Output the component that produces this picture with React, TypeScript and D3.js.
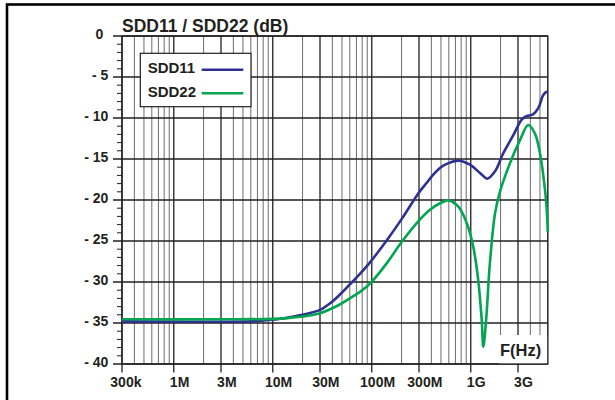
import React from "react";
import * as d3 from "d3";

const FREQ_DOMAIN = [3e5, 6e9];
const DB_DOMAIN = [-40, 0];

const xTickValues = [3e5, 1e6, 3e6, 1e7, 3e7, 1e8, 3e8, 1e9, 3e9];
const xTickLabels = ["300k", "1M", "3M", "10M", "30M", "100M", "300M", "1G", "3G"];

const yTickValues = [0, -5, -10, -15, -20, -25, -30, -35, -40];
const yTickLabels = ["0", "- 5", "- 10", "- 15", "- 20", "- 25", "- 30", "- 35", "- 40"];

const seriesNames = ["SDD11", "SDD22"];
const seriesColors = ["#2E3192", "#00A651"];

// frequencies in MHz
const sdd11Freq = [0.3, 1, 3, 6, 10, 14, 20, 30, 38, 48, 60, 76, 96, 142, 201, 295, 359, 418, 500, 572, 750, 980, 1240, 1470, 1760, 2130, 2690, 3270, 3670, 4220, 4810, 5400, 5850, 6000];
const sdd11Db = [-34.8, -34.85, -34.85, -34.8, -34.6, -34.35, -34.0, -33.4, -32.6, -31.5, -30.3, -29.0, -27.6, -24.9, -22.3, -19.2, -17.9, -16.9, -16.0, -15.6, -15.2, -15.7, -16.7, -17.4, -16.5, -14.3, -12.1, -10.2, -9.75, -9.6, -8.8, -7.2, -6.8, -6.8];

const sdd22Freq = [0.3, 3, 10, 14, 20, 30, 45, 60, 76, 96, 142, 201, 295, 387, 489, 593, 749, 910, 1060, 1190, 1290, 1340, 1430, 1560, 1760, 1970, 2490, 3140, 3810, 4450, 5000, 5400, 5800, 6000];
const sdd22Db = [-34.55, -34.55, -34.5, -34.4, -34.2, -33.8, -32.9, -32.0, -31.2, -30.2, -27.7, -25.1, -22.6, -21.2, -20.4, -20.05, -20.8, -22.8, -25.7, -29.8, -34.6, -37.9, -34.6, -27.7, -21.6, -19.0, -15.5, -12.7, -10.85, -11.9, -14.3, -17.0, -20.5, -23.9];

const INK = "#231f20";
const FONT = "'Liberation Sans', Arial, Helvetica, sans-serif";

export default function App() {
  const W = 615;
  const H = 400;
  const left = 122, right = 547.8, top = 36, bottom = 364;

  const x = d3.scaleLog().domain(FREQ_DOMAIN).range([left, right]);
  const y = d3.scaleLinear().domain(DB_DOMAIN).range([bottom, top]);

  const gridFreqs: number[] = [];
  for (let dec = 1e5; dec <= 1e10; dec *= 10) {
    for (let m = 1; m <= 9; m++) {
      const f = dec * m;
      if (f >= FREQ_DOMAIN[0] * 0.999 && f <= FREQ_DOMAIN[1] * 1.001) gridFreqs.push(f);
    }
  }
  const isMajor = (f: number) => xTickValues.some((t) => Math.abs(t - f) / t < 1e-6);

  const minorDb = d3.range(-40, 1, 1).filter((v) => v % 5 !== 0);

  const line = d3
    .line<[number, number]>()
    .x((d) => x(d[0] * 1e6))
    .y((d) => y(d[1]))
    .curve(d3.curveCatmullRom.alpha(0.5));

  const s11: [number, number][] = sdd11Freq.map((f, i) => [f, sdd11Db[i]]);
  const s22: [number, number][] = sdd22Freq.map((f, i) => [f, sdd22Db[i]]);

  const fs = 14;
  const digitW = 0.556 * fs;

  return (
    <svg
      width={W}
      height={H}
      style={{ position: "absolute", left: 0, top: 0, background: "#fff" }}
      fontFamily={FONT}
    >
      <rect x={0} y={0} width={W} height={H} fill="#fff" />
      <rect x={7} y={4.5} width={800} height={600} fill="none" stroke="#000" strokeWidth={2.6} />

      {gridFreqs.map((f, i) => (
        <line
          key={"vg" + i}
          x1={x(f)}
          x2={x(f)}
          y1={top}
          y2={isMajor(f) ? bottom + 8.5 : bottom}
          stroke={isMajor(f) ? INK : "#6d6d6d"}
          strokeWidth={isMajor(f) ? 1.3 : 1}
        />
      ))}

      {yTickValues.map((v, i) => (
        <line key={"hg" + i} x1={left - 9} x2={right} y1={y(v)} y2={y(v)} stroke={INK} strokeWidth={1.3} />
      ))}
      {minorDb.map((v, i) => (
        <line key={"mt" + i} x1={left - 5} x2={left} y1={y(v)} y2={y(v)} stroke={INK} strokeWidth={1} />
      ))}

      <rect x={left} y={top} width={right - left} height={bottom - top} fill="none" stroke={INK} strokeWidth={1.3} />

      <path d={line(s11) || ""} fill="none" stroke={seriesColors[0]} strokeWidth={2.6} />
      <path d={line(s22) || ""} fill="none" stroke={seriesColors[1]} strokeWidth={2.6} />

      <rect x={499} y={335} width={right - 499 - 0.7} height={bottom - 335 - 0.7} fill="#fff" />
      <text x={500} y={355.5} fontSize={16.5} fontWeight="bold" fill={INK}>
        F(Hz)
      </text>

      <rect x={140.3} y={53.3} width={110.7} height={53.4} fill="#fff" stroke={INK} strokeWidth={1.2} />
      {seriesNames.map((n, i) => (
        <g key={"lg" + i}>
          <text x={147.7} y={73.3 + i * 23.4} fontSize={15} fontWeight="bold" fill={INK}>
            {n}
          </text>
          <line
            x1={201.7}
            x2={243.3}
            y1={69.7 + i * 23.6}
            y2={69.7 + i * 23.6}
            stroke={seriesColors[i]}
            strokeWidth={2.6}
          />
        </g>
      ))}

      <text x={122} y={32.3} fontSize={17.5} fontWeight="bold" fill={INK}>
        SDD11 / SDD22 (dB)
      </text>

      {yTickValues.map((v, i) => (
        <text
          key={"yl" + i}
          x={v === 0 ? 103.3 : 108.3}
          y={y(v) + 2.6}
          fontSize={fs}
          fontWeight="bold"
          fill={INK}
          textAnchor="end"
        >
          {yTickLabels[i]}
        </text>
      ))}

      {xTickValues.map((v, i) => {
        const lab = xTickLabels[i];
        const num = (lab.match(/^[0-9.]+/) || [""])[0];
        const startX = x(v) - (num.length * digitW) / 2;
        return (
          <text key={"xl" + i} x={startX} y={386.7} fontSize={fs} fontWeight="bold" fill={INK}>
            {lab}
          </text>
        );
      })}
    </svg>
  );
}
